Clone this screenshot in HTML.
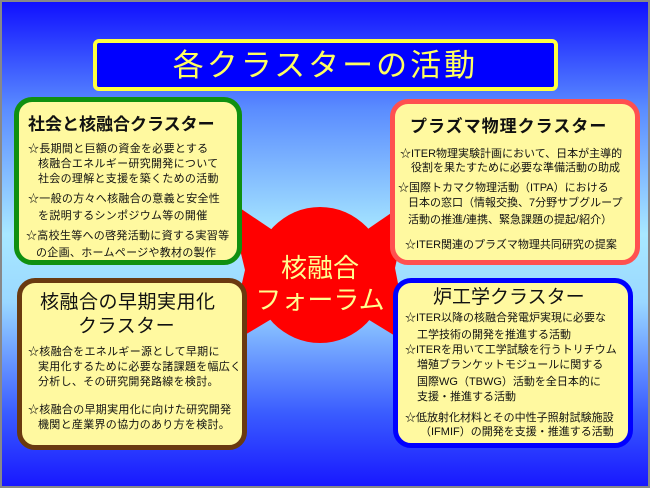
<!DOCTYPE html>
<html><head><meta charset="utf-8"><style>
*{margin:0;padding:0;box-sizing:border-box}
body{width:650px;height:488px;overflow:hidden;font-family:"Liberation Sans","Noto Sans CJK JP",sans-serif;}
#bg{position:absolute;left:0;top:0;width:650px;height:488px;border:2px solid #888;
background:linear-gradient(to bottom,#1010ff 0%,#5a8cff 22%,#a8e8ff 48%,#9ad8ff 62%,#3a5cff 85%,#1818ff 100%);}
.box{position:absolute;background:#fff9a0;border-radius:18px;border:5px solid}
.t{position:absolute;white-space:nowrap;font-size:11px;line-height:14px;color:#111;letter-spacing:0.3px}
.h{position:absolute;white-space:nowrap;font-weight:bold;color:#111;line-height:22px}
</style></head><body>
<div id="bg"></div>
<div style="position:absolute;left:93px;top:39px;width:465px;height:52px;background:#0000ff;border:4px solid #ffff40;border-radius:6px"></div>
<div style="position:absolute;left:93px;top:46px;width:465px;text-align:center;color:#ffff60;font-size:31px;line-height:40px;letter-spacing:3px">各クラスターの活動</div>

<svg style="position:absolute;left:0;top:0" width="650" height="488">
<polygon points="228,200 320,262 410,200 395,268 410,345 320,290 228,345 245,270" fill="#ff0000"/>
<ellipse cx="320" cy="275" rx="66" ry="68" fill="#ff0000"/>
</svg>

<div class="box" style="left:14px;top:97px;width:228px;height:168px;border-color:#109010"></div>
<div class="box" style="left:390px;top:99px;width:250px;height:166px;border-color:#ff5050"></div>
<div class="box" style="left:393px;top:278px;width:240px;height:170px;border-color:#0000ff"></div>
<div class="box" style="left:17px;top:278px;width:230px;height:172px;border-color:#6a3a10"></div>

<div style="position:absolute;left:250px;top:252px;width:140px;text-align:center;color:#ffff90;font-size:26px;line-height:32px">核融合</div>
<div style="position:absolute;left:245px;top:284px;width:150px;text-align:center;color:#ffff90;font-size:26px;line-height:32px">フォーラム</div>

<!-- green -->
<div class="h" style="left:28px;top:114px;font-size:17px">社会と核融合クラスター</div>
<div class="t" style="left:28px;top:142px">☆長期間と巨額の資金を必要とする</div>
<div class="t" style="left:38px;top:157px">核融合エネルギー研究開発について</div>
<div class="t" style="left:38px;top:172px">社会の理解と支援を築くための活動</div>
<div class="t" style="left:28px;top:192px">☆一般の方々へ核融合の意義と安全性</div>
<div class="t" style="left:38px;top:209px">を説明するシンポジウム等の開催</div>
<div class="t" style="left:26px;top:229px">☆高校生等への啓発活動に資する実習等</div>
<div class="t" style="left:36px;top:246px">の企画、ホームページや教材の製作</div>

<!-- red -->
<div class="h" style="left:410px;top:116px;font-size:17px;letter-spacing:1px">プラズマ物理クラスター</div>
<div class="t" style="left:400px;top:147px;letter-spacing:0">☆ITER物理実験計画において、日本が主導的</div>
<div class="t" style="left:411px;top:161px;letter-spacing:0">役割を果たすために必要な準備活動の助成</div>
<div class="t" style="left:398px;top:181px;letter-spacing:0">☆国際トカマク物理活動（ITPA）における</div>
<div class="t" style="left:408px;top:196px;letter-spacing:0">日本の窓口（情報交換、7分野サブグループ</div>
<div class="t" style="left:408px;top:213px;letter-spacing:0">活動の推進/連携、緊急課題の提起/紹介）</div>
<div class="t" style="left:405px;top:238px;letter-spacing:0">☆ITER関連のプラズマ物理共同研究の提案</div>

<!-- blue -->
<div class="h" style="left:433px;top:287px;font-size:19px;font-weight:normal;letter-spacing:0">炉工学クラスター</div>
<div class="t" style="left:405px;top:311px;letter-spacing:0">☆ITER以降の核融合発電炉実現に必要な</div>
<div class="t" style="left:417px;top:328px;letter-spacing:0">工学技術の開発を推進する活動</div>
<div class="t" style="left:405px;top:343px;letter-spacing:0">☆ITERを用いて工学試験を行うトリチウム</div>
<div class="t" style="left:417px;top:358px;letter-spacing:0">増殖ブランケットモジュールに関する</div>
<div class="t" style="left:417px;top:375px;letter-spacing:0">国際WG（TBWG）活動を全日本的に</div>
<div class="t" style="left:417px;top:390px;letter-spacing:0">支援・推進する活動</div>
<div class="t" style="left:405px;top:411px;letter-spacing:0">☆低放射化材料とその中性子照射試験施設</div>
<div class="t" style="left:420px;top:425px;letter-spacing:0">（IFMIF）の開発を支援・推進する活動</div>

<!-- brown -->
<div class="h" style="left:40px;top:292px;font-size:19px;font-weight:normal;letter-spacing:0.5px">核融合の早期実用化</div>
<div class="h" style="left:78px;top:316px;font-size:19px;font-weight:normal;letter-spacing:0.5px">クラスター</div>
<div class="t" style="left:28px;top:345px">☆核融合をエネルギー源として早期に</div>
<div class="t" style="left:38px;top:360px">実用化するために必要な諸課題を幅広く</div>
<div class="t" style="left:38px;top:375px">分析し、その研究開発路線を検討。</div>
<div class="t" style="left:28px;top:403px">☆核融合の早期実用化に向けた研究開発</div>
<div class="t" style="left:38px;top:418px">機関と産業界の協力のあり方を検討。</div>
</body></html>
